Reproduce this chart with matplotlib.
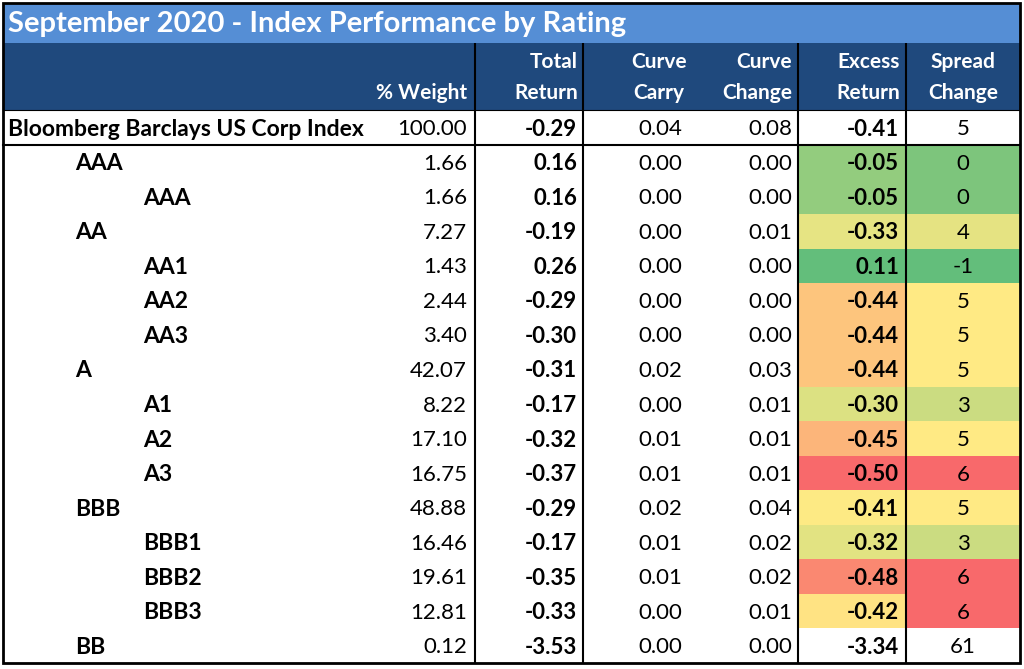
import numpy as np
import matplotlib
matplotlib.use("Agg")
import matplotlib.pyplot as plt
from matplotlib.patches import Rectangle
from matplotlib.colors import LinearSegmentedColormap, TwoSlopeNorm

# ---------------- data ----------------
title = "September 2020 - Index Performance by Rating"
labels = ["Bloomberg Barclays US Corp Index", "AAA", "AAA", "AA", "AA1", "AA2", "AA3",
          "A", "A1", "A2", "A3", "BBB", "BBB1", "BBB2", "BBB3", "BB"]
levels = [0, 1, 2, 1, 2, 2, 2, 1, 2, 2, 2, 1, 2, 2, 2, 1]
weight = [100.00, 1.66, 1.66, 7.27, 1.43, 2.44, 3.40, 42.07, 8.22, 17.10, 16.75,
          48.88, 16.46, 19.61, 12.81, 0.12]
total_ret = [-0.29, 0.16, 0.16, -0.19, 0.26, -0.29, -0.30, -0.31, -0.17, -0.32, -0.37,
             -0.29, -0.17, -0.35, -0.33, -3.53]
curve_carry = [0.04, 0.00, 0.00, 0.00, 0.00, 0.00, 0.00, 0.02, 0.00, 0.01, 0.01,
               0.02, 0.01, 0.01, 0.00, 0.00]
curve_change = [0.08, 0.00, 0.00, 0.01, 0.00, 0.00, 0.00, 0.03, 0.01, 0.01, 0.01,
                0.04, 0.02, 0.02, 0.01, 0.00]
excess_ret = [-0.41, -0.05, -0.05, -0.33, 0.11, -0.44, -0.44, -0.44, -0.30, -0.45, -0.50,
              -0.41, -0.32, -0.48, -0.42, -3.34]
spread_chg = [5, 0, 0, 4, -1, 5, 5, 5, 3, 5, 6, 5, 3, 6, 6, 61]
headers = ["% Weight", "Total\nReturn", "Curve\nCarry", "Curve\nChange", "Excess\nReturn", "Spread\nChange"]
scaled_rows = list(range(1, 15))   # rows with conditional colour scale

# ---------------- style ----------------
FONT = "Lato"
plt.rcParams['font.family'] = [FONT, 'DejaVu Sans']
TITLE_BG = "#558ED5"
HEAD_BG = "#1F497D"

W, H = 1024, 669
fig = plt.figure(figsize=(W / 100, H / 100), dpi=100)
ax = fig.add_axes([0, 0, 1, 1])
ax.set_xlim(0, W)
ax.set_ylim(H, 0)
ax.axis("off")

L, R = 3, 1020
T_TOP, T_BOT = 3, 43
H_BOT = 110
IDX_BOT = 145
B_BOT = 663
n_body = len(labels) - 1
row_h = (B_BOT - IDX_BOT) / n_body
vlines = [475, 583, 798, 906]

# colour scales (Excel-like 3-colour scale)
cmap = LinearSegmentedColormap.from_list("ryg", ["#F8696B", "#FFEB84", "#63BE7B"])
ex = np.array([excess_ret[i] for i in scaled_rows])
sp = np.array([spread_chg[i] for i in scaled_rows], dtype=float)
norm_ex = TwoSlopeNorm(vmin=ex.min(), vcenter=np.median(ex), vmax=ex.max())
norm_sp = TwoSlopeNorm(vmin=sp.min(), vcenter=np.median(sp), vmax=sp.max())
cmap_r = cmap.reversed()

# backgrounds
ax.add_patch(Rectangle((L, T_TOP), R - L, T_BOT - T_TOP, facecolor=TITLE_BG, edgecolor="none"))
ax.add_patch(Rectangle((L, T_BOT), R - L, H_BOT - T_BOT, facecolor=HEAD_BG, edgecolor="none"))

def row_span(i):
    if i == 0:
        return H_BOT, IDX_BOT
    top = IDX_BOT + (i - 1) * row_h
    return top, top + row_h

for i in scaled_rows:
    top, bot = row_span(i)
    ax.add_patch(Rectangle((vlines[2], top), vlines[3] - vlines[2], bot - top,
                           facecolor=cmap(norm_ex(excess_ret[i])), edgecolor="none"))
    ax.add_patch(Rectangle((vlines[3], top), R - vlines[3], bot - top,
                           facecolor=cmap_r(norm_sp(spread_chg[i])), edgecolor="none"))

# title
ax.text(8, (T_TOP + T_BOT) / 2 + 1, title, color="white", fontsize=21, fontweight="bold",
        ha="left", va="center")

# headers
hx = [(467, "right"), (578, "right"), (659, "center"), (792, "right"), (900, "right"), (963, "center")]
for (x, ha), h in zip(hx, headers):
    parts = h.split("\n")
    if len(parts) == 1:
        parts = ["", parts[0]]
    for y, p in zip([62, 93], parts):
        ax.text(x, y, p, color="white", fontsize=15, fontweight="bold", ha=ha, va="center")

# body text
indent = {0: 8, 1: 75, 2: 143}
FS = 16
for i, lab in enumerate(labels):
    top, bot = row_span(i)
    yc = (top + bot) / 2 + 1.5
    ax.text(indent[levels[i]], yc, lab, fontsize=16.5, fontweight="bold", ha="left", va="center")
    ax.text(467, yc, f"{weight[i]:.2f}", fontsize=FS, ha="right", va="center")
    ax.text(577, yc, f"{total_ret[i]:.2f}", fontsize=FS, fontweight="bold", ha="right", va="center")
    ax.text(660, yc, f"{curve_carry[i]:.2f}", fontsize=FS, ha="center", va="center")
    ax.text(792, yc, f"{curve_change[i]:.2f}", fontsize=FS, ha="right", va="center")
    ax.text(899, yc, f"{excess_ret[i]:.2f}", fontsize=FS, fontweight="bold", ha="right", va="center")
    ax.text(963, yc, f"{spread_chg[i]:d}", fontsize=FS, ha="center", va="center")

# lines
for x in vlines:
    ax.plot([x, x], [T_BOT, B_BOT], color="black", lw=1.5, solid_capstyle="butt")
ax.plot([L, R], [IDX_BOT, IDX_BOT], color="black", lw=1.5)
ax.plot([L, R], [H_BOT, H_BOT], color="black", lw=0.8)
ax.add_patch(Rectangle((L, T_TOP), R - L, B_BOT - T_TOP, facecolor="none", edgecolor="black", lw=2))

fig.savefig("out.png", dpi=100)
